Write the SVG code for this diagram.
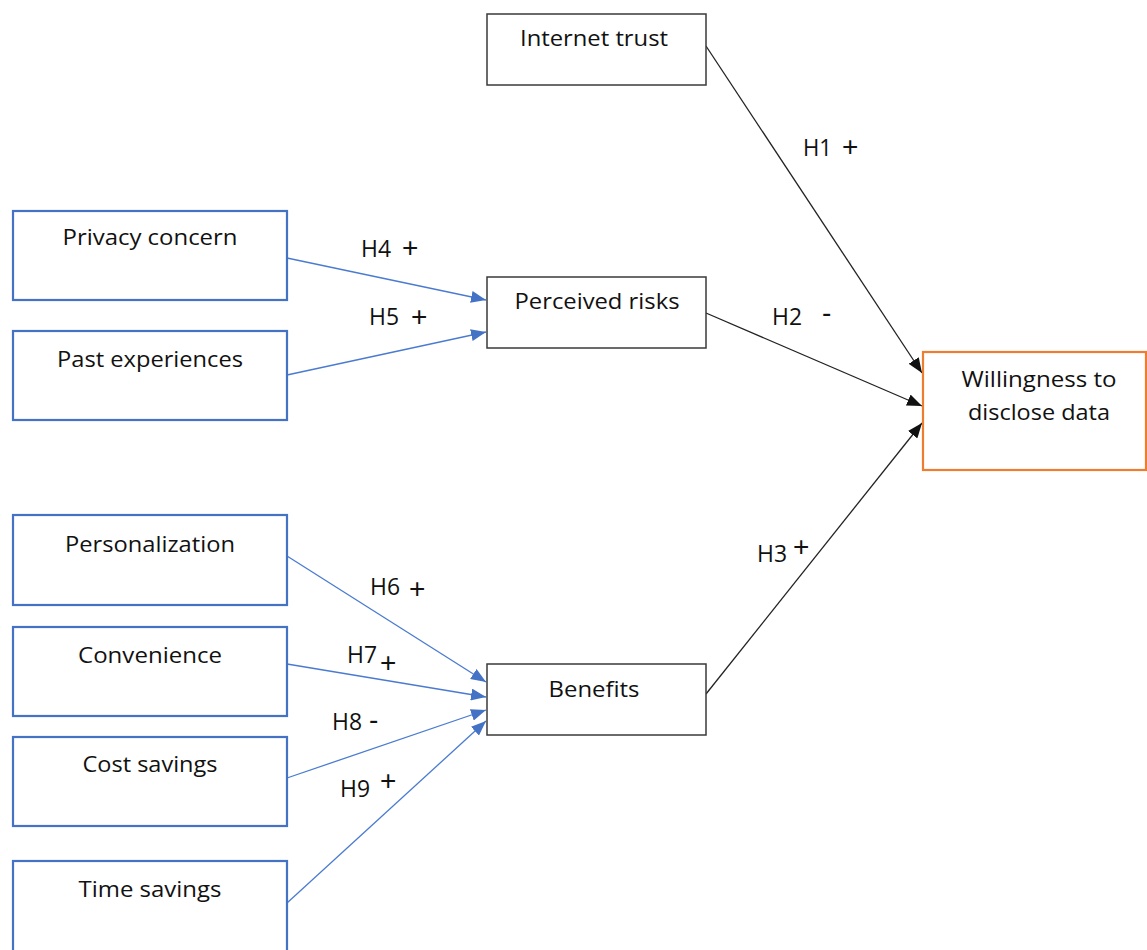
<svg xmlns="http://www.w3.org/2000/svg" width="1147" height="950" viewBox="0 0 1147 950">
<style>
  .nb { fill: #fff; stroke: #3a3a3a; stroke-width: 1.5; }
  .nblue { fill: #fff; stroke: #4472C4; stroke-width: 2.2; }
  .norange { fill: #fff; stroke: #ED7D31; stroke-width: 2.2; }
  text { font-family: "Open Sans", "Liberation Sans", sans-serif; font-size: 22px; fill: #111; }
  .c { text-anchor: middle; }
  .lbl { font-size: 23px; }
  .sg { font-family: "Liberation Sans", Arial, sans-serif; font-size: 28px; }
  .blk { stroke: #222; stroke-width: 1.3; fill: none; }
  .blu { stroke: #4A7BD0; stroke-width: 1.3; fill: none; }
</style>
<defs>
  <marker id="ab" markerUnits="userSpaceOnUse" markerWidth="16" markerHeight="12" refX="15" refY="6" orient="auto">
    <path d="M0,0 L15,6 L0,12 z" fill="#111"/>
  </marker>
  <marker id="au" markerUnits="userSpaceOnUse" markerWidth="16" markerHeight="12" refX="15" refY="6" orient="auto">
    <path d="M0,0 L15,6 L0,12 z" fill="#4472C4"/>
  </marker>
</defs>

<g id="connectors">
  <line class="blk" x1="706" y1="46" x2="922" y2="373" marker-end="url(#ab)"/>
  <line class="blk" x1="706" y1="313" x2="922" y2="406" marker-end="url(#ab)"/>
  <line class="blk" x1="706" y1="694" x2="922" y2="423" marker-end="url(#ab)"/>
  <line class="blu" x1="287" y1="258" x2="486" y2="300" marker-end="url(#au)"/>
  <line class="blu" x1="287" y1="375" x2="486" y2="332" marker-end="url(#au)"/>
  <line class="blu" x1="287" y1="556" x2="486" y2="682" marker-end="url(#au)"/>
  <line class="blu" x1="287" y1="664" x2="486" y2="697" marker-end="url(#au)"/>
  <line class="blu" x1="287" y1="778" x2="486" y2="710" marker-end="url(#au)"/>
  <line class="blu" x1="287" y1="903" x2="486" y2="721" marker-end="url(#au)"/>
</g>

<g id="labels">
  <text class="lbl" x="803" y="156" textLength="29" lengthAdjust="spacingAndGlyphs">H1</text>
  <text class="sg" x="842" y="156">+</text>
  <text class="lbl" x="772" y="325" textLength="30" lengthAdjust="spacingAndGlyphs">H2</text>
  <text class="sg" x="822" y="322">-</text>
  <text class="lbl" x="757" y="562" textLength="30" lengthAdjust="spacingAndGlyphs">H3</text>
  <text class="sg" x="793" y="556">+</text>
  <text class="lbl" x="361" y="257" textLength="30" lengthAdjust="spacingAndGlyphs">H4</text>
  <text class="sg" x="402" y="257">+</text>
  <text class="lbl" x="369" y="325" textLength="30" lengthAdjust="spacingAndGlyphs">H5</text>
  <text class="sg" x="411" y="326">+</text>
  <text class="lbl" x="370" y="595" textLength="30" lengthAdjust="spacingAndGlyphs">H6</text>
  <text class="sg" x="409" y="598">+</text>
  <text class="lbl" x="347" y="663" textLength="30" lengthAdjust="spacingAndGlyphs">H7</text>
  <text class="sg" x="380" y="672">+</text>
  <text class="lbl" x="332" y="730" textLength="30" lengthAdjust="spacingAndGlyphs">H8</text>
  <text class="sg" x="369" y="729">-</text>
  <text class="lbl" x="340" y="797" textLength="30" lengthAdjust="spacingAndGlyphs">H9</text>
  <text class="sg" x="380" y="790">+</text>
</g>

<g id="internet-trust">
  <rect class="nb" x="487" y="14" width="219" height="71"/>
  <text class="c" x="594" y="46" textLength="148" lengthAdjust="spacingAndGlyphs">Internet trust</text>
</g>
<g id="perceived-risks">
  <rect class="nb" x="487" y="277" width="219" height="71"/>
  <text class="c" x="597" y="309" textLength="165" lengthAdjust="spacingAndGlyphs">Perceived risks</text>
</g>
<g id="benefits">
  <rect class="nb" x="487" y="664" width="219" height="71"/>
  <text class="c" x="594" y="697" textLength="91" lengthAdjust="spacingAndGlyphs">Benefits</text>
</g>
<g id="willingness">
  <rect class="norange" x="923" y="352" width="223" height="118"/>
  <text class="c" x="1039" y="387" textLength="155" lengthAdjust="spacingAndGlyphs">Willingness to</text>
  <text class="c" x="1039" y="420" textLength="142" lengthAdjust="spacingAndGlyphs">disclose data</text>
</g>
<g id="privacy-concern">
  <rect class="nblue" x="13" y="211" width="274" height="89"/>
  <text class="c" x="150" y="245" textLength="175" lengthAdjust="spacingAndGlyphs">Privacy concern</text>
</g>
<g id="past-experiences">
  <rect class="nblue" x="13" y="331" width="274" height="89"/>
  <text class="c" x="150" y="367" textLength="186" lengthAdjust="spacingAndGlyphs">Past experiences</text>
</g>
<g id="personalization">
  <rect class="nblue" x="13" y="515" width="274" height="90"/>
  <text class="c" x="150" y="552" textLength="170" lengthAdjust="spacingAndGlyphs">Personalization</text>
</g>
<g id="convenience">
  <rect class="nblue" x="13" y="627" width="274" height="89"/>
  <text class="c" x="150" y="663" textLength="144" lengthAdjust="spacingAndGlyphs">Convenience</text>
</g>
<g id="cost-savings">
  <rect class="nblue" x="13" y="737" width="274" height="89"/>
  <text class="c" x="150" y="772" textLength="135" lengthAdjust="spacingAndGlyphs">Cost savings</text>
</g>
<g id="time-savings">
  <rect class="nblue" x="13" y="861" width="274" height="95"/>
  <text class="c" x="150" y="897" textLength="143" lengthAdjust="spacingAndGlyphs">Time savings</text>
</g>
</svg>
